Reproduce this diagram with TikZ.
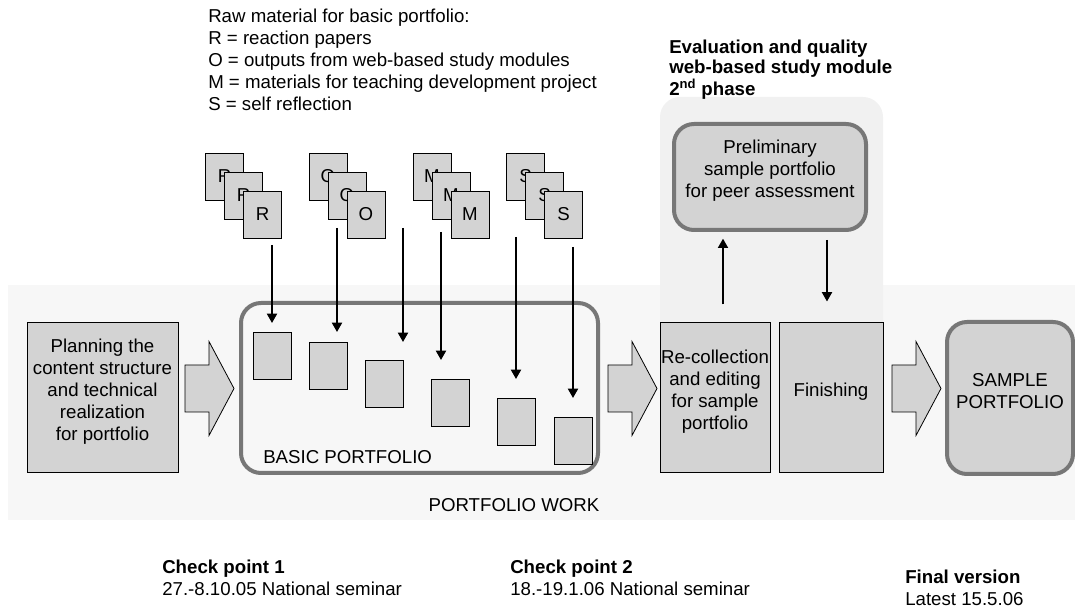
\documentclass[tikz,border=0pt]{standalone}
\usepackage{fontspec}
\setmainfont{Liberation Sans}
\usepackage{tikz}
\usetikzlibrary{positioning}
\usetikzlibrary{fit}
\usetikzlibrary{arrows.meta}
\definecolor{boxgray}{HTML}{D3D3D3}
\definecolor{bordergray}{HTML}{777777}
\definecolor{bandgray}{HTML}{F7F7F7}
\definecolor{panelgray}{HTML}{F1F1F1}
\tikzstyle{block} = [draw, fill=boxgray, line width=0.75pt, inner sep=0pt, align=center]
\tikzstyle{roundblock} = [draw=bordergray, fill=boxgray, line width=3pt, rounded corners=15pt, inner sep=0pt, align=center]
\tikzstyle{card} = [draw, fill=boxgray, line width=0.6pt, minimum width=28.5pt, minimum height=35.25pt, inner sep=0pt]
\tikzstyle{txt} = [inner sep=0pt, align=left]
\tikzstyle{arr} = [-{Triangle[width=7.5pt,length=7pt]}, line width=1.4pt]
\tikzset{bigarrow/.pic={\draw[fill=boxgray, line width=0.6pt] (0,-23.5) -- (24,-23.5) -- (24,-47) -- (49,0) -- (24,47) -- (24,23.5) -- (0,23.5) -- cycle;}}

\begin{document}
\begin{tikzpicture}[x=0.75pt, y=-0.75pt, font=\fontsize{14}{16.5}\selectfont]
    \useasboundingbox (0,0) rectangle (1075,609);
    \fill [bandgray] (8,285) rectangle (1075,520); % portfolio work band
    \fill [panelgray, rounded corners=15pt] (660,470) |- (771,97) -| (883,470) -- cycle;

    \node [txt, anchor=north west] (raw) at (208,9) {Raw material for basic portfolio:\\R = reaction papers\\O = outputs from web-based study modules\\M = materials for teaching development project\\S = self reflection};
    \node [txt, anchor=north west, font=\bfseries\fontsize{14}{15}\selectfont] (evaltitle) at (669,40) {Evaluation and quality\\web-based study module\\2\textsuperscript{nd} phase};

    \node [block, fit={(27,323) (178,473)}] (plan) {Planning the\\content structure\\and technical\\realization\\for portfolio};
    \pic at (185,388.5) {bigarrow};
    \node [roundblock, fill=none, fit={(241,303) (598,473)}] (basic) {};
    \node [txt, anchor=west] (basiclbl) at (263,457) {BASIC PORTFOLIO};
    \node [txt] (worklbl) at (514,505) {PORTFOLIO WORK};

    % raw material stacks
    \node [card] (r1) at (224.5,176.5) {R};
    \node [card] (r2) at (243.5,195.5) {R};
    \node [card] (r3) at (262.5,214.5) {R};
    \node [card] (o1) at (328,176.5) {O};
    \node [card] (o2) at (347,195.5) {O};
    \node [card] (o3) at (366,214.5) {O};
    \node [card] (m1) at (432,176.5) {M};
    \node [card] (m2) at (451,195.5) {M};
    \node [card] (m3) at (470,214.5) {M};
    \node [card] (s1) at (525.5,176.5) {S};
    \node [card] (s2) at (544.5,195.5) {S};
    \node [card] (s3) at (563.5,214.5) {S};

    % documents in basic portfolio
    \node [card] (d1) at (272,355.5) {};
    \node [card] (d2) at (328,365.5) {};
    \node [card] (d3) at (384.5,384) {};
    \node [card] (d4) at (450.5,403) {};
    \node [card] (d5) at (516,421.5) {};
    \node [card] (d6) at (573,440.5) {};

    \coordinate (a1) at (272,245);  \coordinate (b1) at (272,323);
    \coordinate (a2) at (337,228);  \coordinate (b2) at (337,332);
    \coordinate (a3) at (403,228);  \coordinate (b3) at (403,342);
    \coordinate (a4) at (441,232);  \coordinate (b4) at (441,360);
    \coordinate (a5) at (516,237);  \coordinate (b5) at (516,379);
    \coordinate (a6) at (573,247);  \coordinate (b6) at (573,398);
    \draw [arr] (a1) -- (b1);
    \draw [arr] (a2) -- (b2);
    \draw [arr] (a3) -- (b3);
    \draw [arr] (a4) -- (b4);
    \draw [arr] (a5) -- (b5);
    \draw [arr] (a6) -- (b6);

    \pic at (608,388.5) {bigarrow};
    \node [block, fit={(660,323) (770,473)}] (recol) {Re-collection\\and editing\\for sample\\portfolio};
    \node [block, fit={(779,323) (883,473)}] (finish) {Finishing};
    \node [roundblock, fit={(674,124) (866,230)}] (prelim) {Preliminary\\sample portfolio\\for peer assessment};
    \pic at (892,388.5) {bigarrow};
    \node [roundblock, fit={(947,322) (1073,474)}] (sample) {SAMPLE\\PORTFOLIO};

    \draw [arr, shorten <=13.5pt, shorten >=5pt] ([xshift=6pt]recol.north) -- ([xshift=6pt]recol.north |- prelim.south);
    \draw [arr, shorten <=6pt, shorten >=15.75pt] ([xshift=-3pt]finish.north |- prelim.south) -- ([xshift=-3pt]finish.north);

    \node [txt, anchor=north west] (cp1) at (162,560) {\textbf{Check point 1}\\27.-8.10.05 National seminar};
    \node [txt, anchor=north west] (cp2) at (510,560) {\textbf{Check point 2}\\18.-19.1.06 National seminar};
    \node [txt, anchor=north west] (final) at (905,570) {\textbf{Final version}\\Latest 15.5.06};
\end{tikzpicture}
\end{document}
